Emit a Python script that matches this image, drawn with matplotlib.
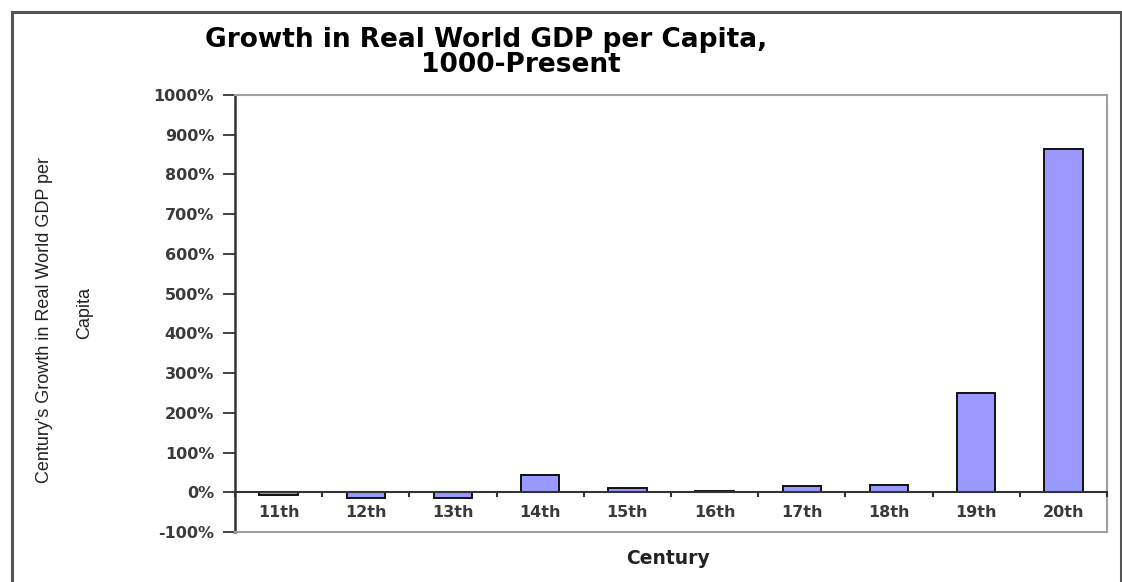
import numpy as np
import matplotlib.pyplot as plt
from matplotlib.patches import Rectangle
from matplotlib.ticker import FuncFormatter

# donnees (croissance par siecle, en %)
centuries = ['11th', '12th', '13th', '14th', '15th', '16th', '17th', '18th', '19th', '20th']
growth = [-6, -15, -15, 43, 10, 2, 15, 18, 249, 865]

y_ticks = list(range(-100, 1001, 100))

fig = plt.figure(figsize=(11.22, 5.82), dpi=100)
ax = fig.add_axes([0.2094, 0.0859, 0.7772, 0.7509])

x = np.arange(len(centuries))
ax.bar(x, growth, width=0.44, color='#9999FF', edgecolor='#111111', linewidth=1.4, zorder=3)

ax.set_xlim(-0.5, len(centuries) - 0.5)
ax.set_ylim(-100, 1000)
ax.set_yticks(y_ticks)
ax.yaxis.set_major_formatter(FuncFormatter(lambda v, p: '%d%%' % v))
ax.tick_params(axis='y', direction='out', length=9, width=1.3, color='#333333',
               labelsize=11.5, labelcolor='#3a3a3a', pad=6)
for lab in ax.get_yticklabels():
    lab.set_fontweight('bold')
    lab.set_family('DejaVu Sans')

# axe des x sur la ligne 0, graduations entre les categories
ax.set_xticks([])
ax.axhline(0, color='#333333', linewidth=1.5, zorder=4)
for b in np.arange(-0.5, len(centuries), 1.0):
    ax.plot([b, b], [0, -10], color='#333333', linewidth=1.5, zorder=4, clip_on=False)
for xi, name in zip(x, centuries):
    ax.text(xi, -50, name, ha='center', va='center', fontsize=11.5, fontweight='bold',
            color='#3a3a3a', family='DejaVu Sans')

ax.spines['left'].set_color('#333333')
ax.spines['left'].set_linewidth(1.8)
for s in ['top', 'right', 'bottom']:
    ax.spines[s].set_color('#a0a0a0')
    ax.spines[s].set_linewidth(1.5)

# titres
fig.text(0.433, 0.919, 'Growth in Real World GDP per Capita,', ha='center', va='baseline',
         fontsize=19, fontweight='bold', family='DejaVu Sans')
fig.text(0.464, 0.876, '1000-Present', ha='center', va='baseline',
         fontsize=19, fontweight='bold', family='DejaVu Sans')
fig.text(0.595, 0.041, 'Century', ha='center', va='center', fontsize=13.5,
         fontweight='bold', color='#222222', family='DejaVu Sans')

yl_font = ['Liberation Sans Narrow', 'Liberation Sans']
fig.text(0.040, 0.45, "Century's Growth in Real World GDP per", rotation=90,
         ha='center', va='center', fontsize=13, family=yl_font, color='#222222')
fig.text(0.075, 0.462, 'Capita', rotation=90, ha='center', va='center',
         fontsize=13, family=yl_font, color='#222222')

# cadre exterieur
fig.patches.append(Rectangle((0.0107, -0.05), 0.988, 1.03, transform=fig.transFigure,
                             fill=False, edgecolor='#555555', linewidth=2.2))

fig.savefig('out.png', dpi=100)
